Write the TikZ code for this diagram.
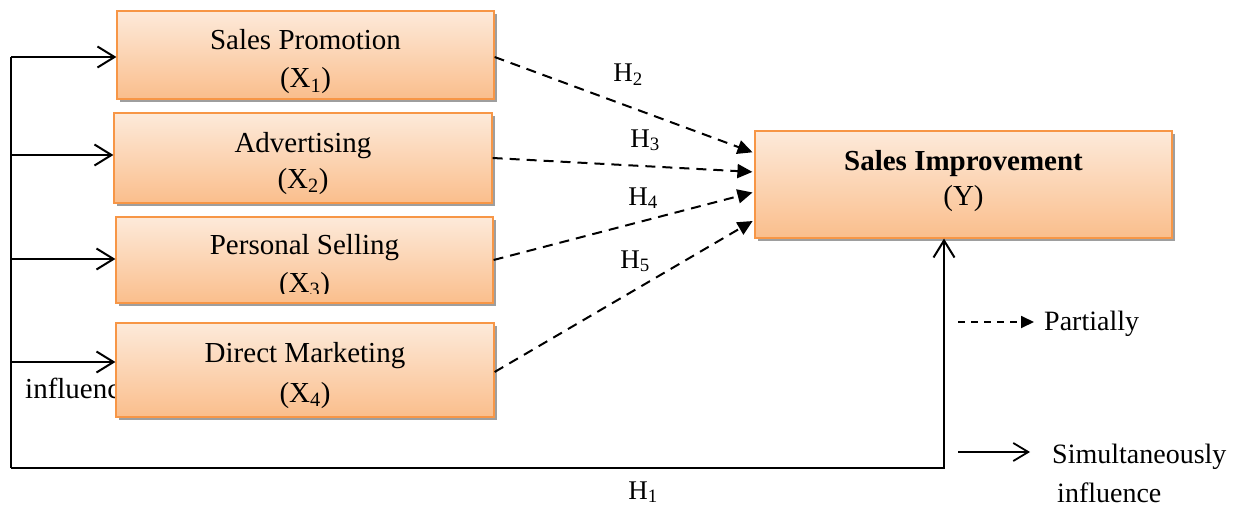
\documentclass[tikz,border=0pt]{standalone}
\usepackage{fontspec}
\setmainfont{Liberation Serif}
\usetikzlibrary{arrows.meta,shadows,calc}
\definecolor{boxtop}{RGB}{253,234,218}
\definecolor{boxbot}{RGB}{250,190,140}
\definecolor{boxedge}{RGB}{247,150,70}
\tikzset{
  box/.style={draw=boxedge, line width=1.2pt, top color=boxtop, bottom color=boxbot,
    drop shadow={shadow xshift=2.5pt, shadow yshift=-3pt, fill=black!38, opacity=1},
    inner sep=0pt},
  boxtxt/.style={font=\fontsize{29}{38}\selectfont, anchor=base, inner sep=0pt},
  hlab/.style={font=\fontsize{27}{32}\selectfont, anchor=base, inner sep=0pt},
  legtxt/.style={font=\fontsize{28}{32}\selectfont, anchor=base west, inner sep=0pt},
  solidarr/.style={line width=2pt, -{Straight Barb[length=17pt,width=21pt,line width=2pt]}},
  dasharr/.style={line width=2pt, dash pattern=on 10pt off 7pt, -{Triangle[length=15pt,width=14pt]}, shorten >=2pt},
  plainline/.style={line width=2pt}
}
\begin{document}
\begin{tikzpicture}[x=1pt,y=-1pt]
\useasboundingbox (0,0) rectangle (1246,508);

% text hidden partly under the X4 box
\node[boxtxt, anchor=base west] (infl) at (25,398) {influence};

% boxes
\node[box, minimum width=377pt, minimum height=88pt] (x1) at (305.5,55) {};
\node[box, minimum width=378pt, minimum height=90pt] (x2) at (303,158) {};
\node[box, minimum width=377pt, minimum height=86pt] (x3) at (304.5,260) {};
\node[box, minimum width=378pt, minimum height=94pt] (x4) at (305,370) {};
\node[box, minimum width=417pt, minimum height=107pt] (y) at (963.5,184.5) {};

% box texts
\node[boxtxt] (t1a) at (305.5,50) {Sales Promotion};
\node[boxtxt] (t1b) at (305.5,88) {(X\textsubscript{1})};
\node[boxtxt] (t2a) at (303,152) {Advertising};
\node[boxtxt] (t2b) at (303,188) {(X\textsubscript{2})};
\node[boxtxt] (t3a) at (304.5,254) {Personal Selling};
\begin{scope}
\clip (117,218) rectangle (492,293);
\node[boxtxt] (t3b) at (304.5,292) {(X\textsubscript{3})};
\end{scope}
\node[boxtxt] (t4a) at (305,362) {Direct Marketing};
\node[boxtxt] (t4b) at (305,402) {(X\textsubscript{4})};
\node[boxtxt, font=\fontsize{29}{38}\selectfont\bfseries] (tya) at (963.5,170) {Sales Improvement};
\node[boxtxt] (tyb) at (963.5,205) {(Y)};

% trunk and solid arrows
\coordinate (a1) at (11,57);
\coordinate (a2) at (11,155);
\coordinate (a3) at (11,259);
\coordinate (a4) at (11,362);
\coordinate (abot) at (11,468);
\coordinate (acorner) at (944,468);
\draw[plainline] (a1) -- (abot);
\draw[solidarr] (a1) -- (a1 -| x1.west);
\draw[solidarr] (a2) -- (a2 -| x2.west);
\draw[solidarr] (a3) -- (a3 -| x3.west);
\draw[solidarr] (a4) -- (a4 -| x4.west);
\draw[solidarr] (abot) -- (acorner) -- (acorner |- y.south);

% dashed arrows
\draw[dasharr] ([yshift=-2pt]x1.east) -- ([yshift=31.5pt]y.west);
\draw[dasharr] (x2.east) -- ([yshift=12.5pt]y.west);
\draw[dasharr] (x3.east) -- ([yshift=-7.5pt]y.west);
\draw[dasharr] ([yshift=-2pt]x4.east) -- ([yshift=-35.5pt]y.west);

% hypothesis labels
\node[hlab] (h2) at (628,82) {H\textsubscript{2}};
\node[hlab] (h3) at (645,147) {H\textsubscript{3}};
\node[hlab] (h4) at (643,205) {H\textsubscript{4}};
\node[hlab] (h5) at (635,268) {H\textsubscript{5}};
\node[hlab] (h1) at (643,499) {H\textsubscript{1}};

% legend
\coordinate (l1a) at (958,322);
\coordinate (l1b) at (1034,322);
\draw[line width=1.8pt, dash pattern=on 7pt off 6pt, -{Triangle[length=13pt,width=12pt]}] (l1a) -- (l1b);
\node[legtxt] (lp) at (1044,330) {Partially};
\coordinate (l2a) at (958,452);
\coordinate (l2b) at (1030,452);
\draw[line width=1.8pt, -{Straight Barb[length=15pt,width=18pt,line width=1.8pt]}] (l2a) -- (l2b);
\node[legtxt] (ls1) at (1052,463) {Simultaneously};
\node[legtxt] (ls2) at (1057,502) {influence};
\end{tikzpicture}
\end{document}
